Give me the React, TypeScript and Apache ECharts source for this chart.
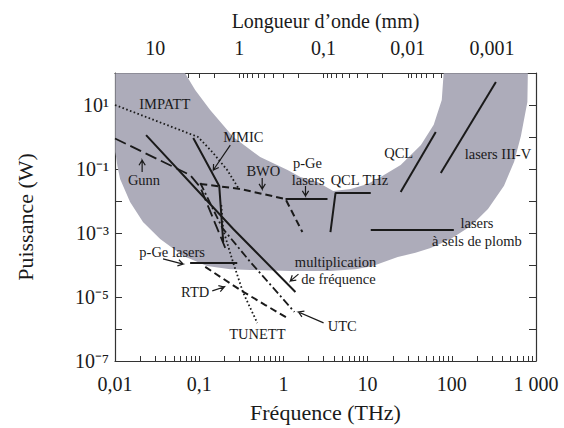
import React, { useEffect, useRef } from 'react';
import * as echarts from 'echarts';

const FONT = 'Liberation Serif';
const INK = '#1a1a1a';

// ---- axes ----
const freqTickValues = [0.01, 0.1, 1, 10, 100, 1000];
const freqTickLabels = ['0,01', '0,1', '1', '10', '100', '1 000'];
const powerTickValues = [1e-7, 1e-6, 1e-5, 1e-4, 1e-3, 1e-2, 1e-1, 1, 10, 100];
const powerLabelValues = [10, 0.1, 1e-3, 1e-5, 1e-7];
const powerLabels = ['10¹', '10⁻¹', '10⁻³', '10⁻⁵', '10⁻⁷'];
const wavelengthValues = [10, 1, 0.1, 0.01, 0.001];
const wavelengthLabels = ['10', '1', '0,1', '0,01', '0,001'];
const C_MM_THZ = 0.3; // lambda(mm) = 0.3 / f(THz)

// ---- gray "THz gap" band (frequency THz, power W), traced from the bottom ----
const bandOuterRight: number[][] = [
  [1.21, 6.5e-5], [3.6, 6.5e-5], [7.2, 7.4e-5], [11.5, 9.3e-5],
  [22.8, 1.78e-4], [37, 2.4e-4], [56, 3.4e-4], [97, 6.5e-4], [168, 1.65e-3],
  [269, 5.6e-3], [417, 0.03], [550, 0.17], [662, 1.07], [790, 12.4], [800, 99],
];
const bandInner: number[][] = [
  [80, 99], [76, 14.3], [61, 2.4], [43, 0.56], [24.7, 0.133], [14.3, 0.056],
  [10, 0.034], [6.3, 0.0237], [3.9, 0.0205], [2.54, 0.039], [1.59, 0.056],
  [1.12, 0.093], [0.53, 0.237], [0.254, 1.0], [0.135, 7.0], [0.0896, 29.4], [0.068, 99],
];
const bandOuterLeft: number[][] = [
  [0.0101, 99], [0.0101, 0.34], [0.0107, 0.12], [0.0115, 0.049], [0.0151, 0.0093],
  [0.0215, 0.0022], [0.0344, 6.5e-4], [0.065, 1.9e-4], [0.124, 9.3e-5], [0.234, 7.4e-5],
  [0.405, 7e-5], [1.21, 6.5e-5],
];

// ---- sources ----
const impatt = [[0.01, 10], [0.097, 1.0], [0.143, 0.34], [0.215, 0.093], [0.29, 0.026]];
const gunn = [[0.01, 0.9], [0.078, 0.065], [0.103, 0.027], [0.204, 3.4e-4]];
const mmic = [[0.085, 0.93], [0.173, 0.0295], [0.193, 5.2e-4]];
const tunett = [[0.183, 7.5e-3], [0.193, 1.24e-3], [0.254, 1.15e-4], [0.334, 1.33e-5], [0.49, 1.54e-6]];
const multiplication = [[0.0234, 1.15], [0.254, 1.33e-3], [1.39, 1.44e-5]];
const utc = [[0.103, 0.0365], [0.188, 1.44e-3], [0.405, 1.24e-4], [0.8, 1.65e-5], [1.35, 3.4e-6]];
const rtd = [[0.118, 8.7e-5], [0.308, 1.65e-5], [0.61, 5.6e-6], [1.12, 2.2e-6]];
const pGeLow = [[0.078, 1.15e-4], [0.283, 1.15e-4]];
const bwo = [[0.103, 0.034], [0.308, 0.0237], [1.06, 0.0115], [1.68, 1.07e-3]];
const pGeHigh = [[1.06, 0.0115], [3.34, 0.0115]];
const qclTHz = [[3.62, 1.07e-3], [4.16, 0.0178], [10.9, 0.0178]];
const qcl = [[24.7, 0.019], [64.5, 1.44]];
const lasersIIIV = [[74, 0.075], [334, 52]];
const leadSalt = [[10.9, 1.24e-3], [105.7, 1.24e-3]];

// ---- annotations ----
const labelTexts = [
  'IMPATT', 'MMIC', 'Gunn', 'BWO', 'p-Ge', 'lasers', 'QCL THz', 'QCL', 'lasers III-V',
  'lasers', 'à sels de plomb', 'multiplication', 'de fréquence', 'UTC', 'TUNETT', 'RTD', 'p-Ge lasers',
];
const labelPos = [
  [0.039, 10.7], [0.334, 1.0], [0.0221, 0.0453], [0.578, 0.087], [1.93, 0.155], [1.97, 0.0457],
  [8.0, 0.0457], [23.4, 0.316], [353, 0.295], [199, 2.0e-3], [199, 5.6e-4], [4.16, 1.24e-4],
  [4.5, 3.65e-5], [5.0, 1.24e-6], [0.49, 7e-7], [0.0896, 1.44e-5], [0.0477, 2.56e-4],
];
const arrows = [
  [0.234, 0.56, 0.147, 0.093],
  [0.021, 0.081, 0.021, 0.19],
  [0.56, 0.052, 0.56, 0.0237],
  [1.83, 0.0295, 1.83, 0.0144],
  [1.51, 5.2e-5, 1.21, 3.16e-5],
  [3.0, 1.55e-6, 1.51, 3.4e-6],
  [0.143, 1.55e-5, 0.198, 2.05e-5],
  [0.0372, 1.55e-4, 0.0644, 1.07e-4],
];

const minorMultipliers = [2, 3, 4, 5, 6, 7, 8, 9];

function lineSeries(data: number[][], type: any, width = 2) {
  return {
    type: 'line',
    data,
    symbol: 'none',
    silent: true,
    z: 3,
    lineStyle: { color: INK, width, type },
  };
}

function matchIndex(values: number[], v: number) {
  return values.findIndex((t) => Math.abs(Math.log10(t) - Math.log10(v)) < 0.01);
}

export default function App() {
  const ref = useRef<HTMLDivElement>(null);

  useEffect(() => {
    document.body.style.margin = '0';
    if (!ref.current) return;
    const chart = echarts.init(ref.current, null, { renderer: 'svg' });

    const freqTicks: number[] = freqTickValues.slice();
    [0.01, 0.1, 1, 10, 100].forEach((d) => minorMultipliers.forEach((m) => freqTicks.push(d * m)));
    const topMajor = wavelengthValues.map((l) => C_MM_THZ / l);
    const topTicks: number[] = topMajor.slice();
    [10, 1, 0.1, 0.01, 0.001, 0.0001].forEach((d) =>
      minorMultipliers.forEach((m) => {
        const f = C_MM_THZ / (d * m);
        if (f >= 0.01 && f <= 1000) topTicks.push(f);
      })
    );
    const start = bandOuterRight[0];
    const bandPoly = [start, start, start].concat(bandOuterRight, bandInner, bandOuterLeft);

    const option: any = {
      animation: false,
      grid: { left: 115, top: 73, right: 28, bottom: 67 },
      xAxis: [
        {
          type: 'log', position: 'bottom', min: 0.01, max: 1000,
          name: 'Fréquence (THz)', nameLocation: 'middle', nameGap: 40,
          nameTextStyle: { fontSize: 22, color: INK, fontFamily: FONT },
          axisLine: { lineStyle: { color: '#333', width: 1.2 } },
          axisTick: { inside: true, length: 5, customValues: freqTicks, lineStyle: { color: '#333' } },
          axisLabel: {
            customValues: freqTickValues, fontSize: 20, color: INK, fontFamily: FONT, margin: 13,
            formatter: (v: number) => { const i = matchIndex(freqTickValues, v); return i >= 0 ? freqTickLabels[i] : ''; },
          },
          splitLine: { show: false },
        },
        {
          type: 'log', position: 'top', min: 0.01, max: 1000,
          name: 'Longueur d’onde (mm)', nameLocation: 'middle', nameGap: 42,
          nameTextStyle: { fontSize: 20, color: INK, fontFamily: FONT },
          axisLine: { lineStyle: { color: '#333', width: 1.2 } },
          axisTick: { inside: true, length: 5, customValues: topTicks, lineStyle: { color: '#333' } },
          axisLabel: {
            customValues: topMajor, fontSize: 20, color: INK, fontFamily: FONT, margin: 15,
            formatter: (v: number) => { const i = matchIndex(wavelengthValues, C_MM_THZ / v); return i >= 0 ? wavelengthLabels[i] : ''; },
          },
          splitLine: { show: false },
        },
      ],
      yAxis: [
        {
          type: 'log', position: 'left', min: 1e-7, max: 100,
          name: 'Puissance (W)', nameLocation: 'middle', nameGap: 79,
          nameTextStyle: { fontSize: 22, color: INK, fontFamily: FONT },
          axisLine: { lineStyle: { color: '#333', width: 1.2 } },
          axisTick: { inside: true, length: 7, customValues: powerTickValues, lineStyle: { color: '#333' } },
          axisLabel: {
            customValues: powerLabelValues, margin: 6, fontSize: 20, color: INK, fontFamily: FONT,
            formatter: (v: number) => { const i = matchIndex(powerLabelValues, v); return i >= 0 ? powerLabels[i] : ''; },
          },
          splitLine: { show: false },
        },
        {
          type: 'log', position: 'right', min: 1e-7, max: 100,
          axisLine: { lineStyle: { color: '#333', width: 1.2 } },
          axisTick: { inside: true, length: 7, customValues: powerTickValues, lineStyle: { color: '#333' } },
          axisLabel: { show: false }, splitLine: { show: false },
        },
      ],
      series: [
        {
          type: 'custom', data: [[1, 1]], encode: { x: 0, y: 1 }, silent: true, z: 1,
          renderItem: (params: any, api: any) => ({
            type: 'polygon',
            shape: { points: bandPoly.map((p) => api.coord(p)) },
            style: { fill: '#adacba' },
          }),
        },
        lineSeries(impatt, [1.6, 2.4], 1.8),
        lineSeries(gunn, [12, 5], 1.8),
        lineSeries(mmic, 'solid', 2),
        lineSeries(tunett, [1.6, 2.4], 1.8),
        lineSeries(multiplication, 'solid', 2),
        lineSeries(utc, [8, 3, 2, 3], 1.8),
        lineSeries(rtd, [7, 4], 2),
        lineSeries(pGeLow, 'solid', 2),
        lineSeries(bwo, [7, 4], 2),
        lineSeries(pGeHigh, 'solid', 2),
        lineSeries(qclTHz, 'solid', 2),
        lineSeries(qcl, 'solid', 2),
        lineSeries(lasersIIIV, 'solid', 2),
        lineSeries(leadSalt, 'solid', 2),
        {
          type: 'custom', data: arrows, encode: { x: [0, 2], y: [1, 3] }, silent: true, z: 5,
          renderItem: (params: any, api: any) => {
            const p1 = api.coord([api.value(0), api.value(1)]);
            const p2 = api.coord([api.value(2), api.value(3)]);
            const ang = Math.atan2(p2[1] - p1[1], p2[0] - p1[0]);
            const L = 6, a = 0.55;
            const h1 = [p2[0] - L * Math.cos(ang - a), p2[1] - L * Math.sin(ang - a)];
            const h2 = [p2[0] - L * Math.cos(ang + a), p2[1] - L * Math.sin(ang + a)];
            return {
              type: 'polyline',
              shape: { points: [p1, p2, h1, p2, h2] },
              style: { stroke: INK, lineWidth: 1.2, fill: null },
            };
          },
        },
        {
          type: 'custom', data: labelPos, encode: { x: 0, y: 1 }, silent: true, z: 6,
          renderItem: (params: any, api: any) => {
            const p = api.coord([api.value(0), api.value(1)]);
            return {
              type: 'text', x: p[0], y: p[1],
              style: {
                text: labelTexts[params.dataIndex], fontSize: 14.5, fontFamily: FONT, fill: INK,
                align: 'center', verticalAlign: 'middle',
              },
            };
          },
        },
      ],
    };

    chart.setOption(option);
    return () => chart.dispose();
  }, []);

  return <div ref={ref} style={{ width: 564, height: 428 }} />;
}
